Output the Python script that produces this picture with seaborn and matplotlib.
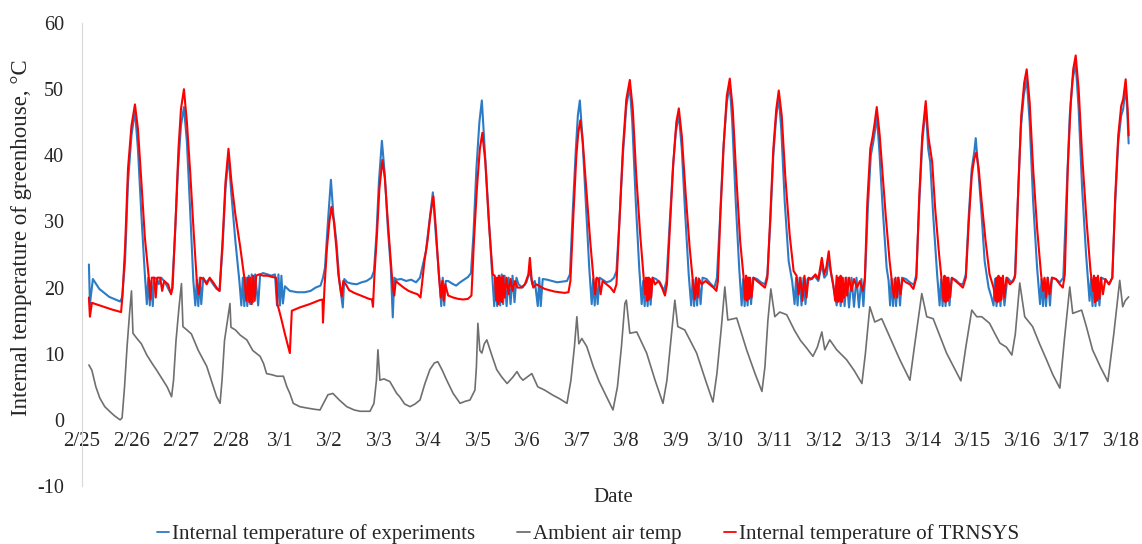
import matplotlib
matplotlib.use("Agg")
import matplotlib.pyplot as plt
from matplotlib.lines import Line2D
import seaborn as sns
import pandas as pd

# x = days after 2/25 (tick 0 = 2/25), y = temperature in degC
date_labels = ["2/25", "2/26", "2/27", "2/28", "3/1", "3/2", "3/3", "3/4", "3/5", "3/6", "3/7",
               "3/8", "3/9", "3/10", "3/11", "3/12", "3/13", "3/14", "3/15", "3/16", "3/17", "3/18"]
y_ticks = [-10, 0, 10, 20, 30, 40, 50, 60]

exp_points = [
    (0.14, 23.5), (0.16, 17.5), (0.22, 21.3), (0.35, 19.8), (0.55, 18.6), (0.77, 17.9), (0.81, 18.5),
    (0.87, 24), (0.93, 36), (1.00, 43), (1.07, 46.7), (1.13, 41), (1.20, 31), (1.27, 22), (1.31, 17.5),
    (1.34, 21.5), (1.37, 17.3), (1.40, 21), (1.43, 17.2), (1.46, 21.5), (1.52, 21.3), (1.55, 20.5),
    (1.60, 21.5), (1.66, 21), (1.72, 20.2), (1.78, 19.3), (1.82, 19.8),
    (1.88, 28), (1.94, 38), (2.00, 44.5), (2.06, 47.3), (2.12, 42), (2.19, 31), (2.25, 21), (2.29, 17.3),
    (2.32, 21.2), (2.35, 17.2), (2.38, 21.5), (2.41, 17.5), (2.45, 21.5), (2.50, 20.8), (2.58, 21.3),
    (2.65, 20.5), (2.72, 19.8), (2.78, 19.5),
    (2.84, 26), (2.90, 35), (2.96, 40), (3.02, 34), (3.10, 27), (3.18, 21), (3.22, 17.3),
    (3.25, 21.5), (3.28, 17.2), (3.31, 21.5), (3.34, 17.2), (3.37, 21.8), (3.40, 17.5), (3.43, 22),
    (3.46, 17.8), (3.50, 22), (3.56, 17.3), (3.60, 22), (3.66, 22.2), (3.75, 22), (3.82, 21.8),
    (3.90, 22), (3.94, 17.3), (3.97, 22), (4.00, 17.3), (4.03, 21.8), (4.06, 17.6),
    (4.10, 20.2), (4.20, 19.5), (4.35, 19.3), (4.50, 19.3), (4.62, 19.5), (4.72, 20), (4.82, 20.3), (4.87, 21.5),
    (4.91, 23), (4.97, 30), (5.03, 36.3), (5.08, 31), (5.14, 27), (5.20, 21), (5.27, 17), (5.30, 21.3),
    (5.36, 20.8), (5.45, 20.6), (5.55, 20.5), (5.65, 20.8), (5.75, 21), (5.85, 21.5), (5.90, 22.5),
    (5.95, 28), (6.00, 36), (6.06, 42.2), (6.12, 37), (6.18, 29), (6.24, 23), (6.28, 15.5), (6.31, 21.5),
    (6.36, 21.2), (6.45, 21.3), (6.55, 21), (6.65, 21.2), (6.75, 20.8), (6.83, 21.5), (6.89, 23.5),
    (6.95, 25.5), (7.02, 30), (7.09, 34.4), (7.15, 28), (7.22, 21.5), (7.26, 17.2), (7.29, 21.5),
    (7.32, 17.3), (7.35, 21),
    (7.40, 21), (7.48, 20.6), (7.56, 20.3), (7.64, 20.8), (7.72, 21.2), (7.80, 21.6), (7.86, 22.2),
    (7.91, 28), (7.97, 38), (8.03, 45), (8.08, 48.3), (8.13, 42), (8.20, 33), (8.28, 23), (8.33, 17.2),
    (8.36, 21.5), (8.39, 17.2), (8.42, 21.8), (8.45, 17.3), (8.48, 22), (8.51, 17.5), (8.54, 21.8),
    (8.58, 17.2), (8.62, 21.5), (8.66, 17.5), (8.70, 21.8), (8.74, 17.8), (8.78, 21.5), (8.82, 20.5),
    (8.90, 20), (8.98, 20.8), (9.05, 22.5), (9.10, 20.5), (9.15, 21), (9.21, 17.2), (9.24, 21.5),
    (9.27, 17.2), (9.31, 21.3), (9.40, 21.2), (9.50, 21), (9.60, 20.8), (9.70, 20.9), (9.80, 21), (9.86, 22),
    (9.92, 32), (9.98, 41), (10.02, 46), (10.06, 48.3), (10.11, 43), (10.18, 33), (10.25, 23), (10.30, 17.5),
    (10.33, 21.3), (10.36, 17.3), (10.39, 21.3), (10.42, 17.5), (10.46, 21.5), (10.52, 21.2),
    (10.60, 20.8), (10.68, 21), (10.75, 21.5), (10.80, 22.5),
    (10.86, 30), (10.93, 40), (11.00, 47.5), (11.07, 50.4), (11.12, 45), (11.19, 33), (11.26, 23), (11.31, 17.5),
    (11.34, 21), (11.37, 17.2), (11.40, 21.3), (11.43, 17.2), (11.46, 21.5), (11.49, 17.4), (11.53, 21.5),
    (11.60, 21.3), (11.68, 20.8), (11.76, 19.5), (11.81, 21),
    (11.87, 29), (11.94, 38), (12.00, 43.5), (12.06, 46.2), (12.12, 41), (12.19, 31), (12.26, 22), (12.31, 17.3),
    (12.34, 21.2), (12.37, 17.2), (12.40, 21.3), (12.43, 17.3), (12.46, 21.4), (12.50, 17.5), (12.54, 21.5),
    (12.62, 21.3), (12.70, 20.6), (12.78, 20), (12.83, 21.5),
    (12.89, 30), (12.96, 41), (13.03, 48), (13.09, 50.6), (13.14, 45), (13.21, 33), (13.28, 23), (13.33, 17.3),
    (13.36, 21.3), (13.39, 17.2), (13.42, 21.3), (13.45, 17.3), (13.48, 21.5), (13.52, 17.5), (13.56, 21.5),
    (13.64, 21.3), (13.72, 20.8), (13.80, 20.5), (13.85, 22),
    (13.91, 30), (13.97, 40), (14.03, 46), (14.08, 48.8), (14.13, 44), (14.20, 33), (14.28, 24), (14.35, 21), (14.40, 17.5),
    (14.43, 21.5), (14.46, 17.3), (14.50, 21.5), (14.54, 17.3), (14.58, 21.5), (14.62, 17.5), (14.66, 21.3),
    (14.72, 21.2), (14.80, 21.8), (14.88, 21), (14.95, 23.5), (15.00, 21.5), (15.05, 22), (15.09, 24.5),
    (15.14, 22), (15.20, 19.5), (15.25, 17.3), (15.29, 21.5), (15.33, 17.2), (15.37, 21.5), (15.41, 17.2),
    (15.45, 21.5), (15.50, 17), (15.55, 21.5), (15.60, 17.1), (15.65, 21.5), (15.70, 17), (15.75, 21.3),
    (15.79, 17.2), (15.82, 21),
    (15.88, 32), (15.94, 40), (15.99, 42), (16.03, 44), (16.06, 46.1), (16.11, 41), (16.18, 32), (16.26, 23),
    (16.30, 21), (16.33, 17.3),
    (16.36, 21.3), (16.39, 17.2), (16.42, 21.3), (16.45, 17.2), (16.49, 21.5), (16.53, 17.3), (16.57, 21.5),
    (16.65, 21.3), (16.73, 20.8), (16.81, 20.4), (16.86, 22),
    (16.92, 33), (16.98, 42), (17.05, 47.5), (17.10, 41), (17.14, 39), (17.20, 31), (17.28, 22), (17.33, 17.3),
    (17.36, 21.3), (17.39, 17.2), (17.42, 21.3), (17.45, 17.2), (17.49, 21.5), (17.53, 17.3), (17.57, 21.4),
    (17.65, 21.2), (17.73, 20.6), (17.80, 20.5), (17.86, 22),
    (17.92, 31), (17.98, 38), (18.03, 40.5), (18.06, 42.6), (18.10, 39), (18.17, 32), (18.24, 24), (18.32, 20),
    (18.38, 18.5), (18.42, 17.3),
    (18.45, 21.3), (18.48, 17.2), (18.52, 21.5), (18.56, 17.2), (18.60, 21.5), (18.64, 17.3), (18.70, 21.5),
    (18.78, 20.8), (18.85, 21.5),
    (18.91, 33), (18.97, 44), (19.03, 49), (19.09, 51.6), (19.15, 45), (19.22, 33), (19.30, 23), (19.36, 17.5),
    (19.39, 21.3), (19.42, 17.2), (19.45, 21.3), (19.48, 17.2), (19.52, 21.5), (19.56, 17.3), (19.60, 21.5),
    (19.68, 21.3), (19.76, 20.8), (19.83, 21.5),
    (19.90, 35), (19.96, 46), (20.02, 51.5), (20.08, 53.9), (20.14, 47), (20.21, 35), (20.29, 25), (20.36, 18),
    (20.39, 21.5), (20.42, 17.2), (20.45, 21.5), (20.48, 17.2), (20.52, 21.5), (20.56, 17.3), (20.60, 21.5),
    (20.68, 21.2), (20.76, 20.5), (20.82, 21.5),
    (20.88, 33), (20.94, 42), (21.00, 46), (21.04, 47), (21.09, 50.4), (21.12, 47), (21.15, 41.8),
]

ambient_points = [
    (0.14, 8.3), (0.20, 7.5), (0.28, 5.0), (0.36, 3.3), (0.46, 2.0), (0.57, 1.2), (0.66, 0.6), (0.77, 0.0),
    (0.81, 0.3), (0.86, 5), (0.91, 11), (0.96, 16), (1.00, 19.5), (1.03, 13.1), (1.10, 12.4), (1.20, 11.5),
    (1.31, 9.8), (1.42, 8.5), (1.51, 7.5), (1.62, 6.2), (1.72, 5.0), (1.81, 3.5), (1.85, 6), (1.90, 12),
    (1.96, 17), (2.01, 20.6), (2.04, 14.1), (2.12, 13.6), (2.21, 13.0), (2.35, 10.5), (2.52, 8.1), (2.62, 5.8),
    (2.72, 3.5), (2.79, 2.5), (2.83, 6), (2.88, 12), (2.94, 15), (2.99, 17.6), (3.01, 14), (3.10, 13.6),
    (3.20, 12.8), (3.33, 12.1), (3.45, 10.5), (3.60, 9.6), (3.67, 8.5), (3.73, 7.0), (3.85, 6.8), (3.94, 6.6),
    (4.07, 6.6), (4.14, 5.0), (4.20, 4.0), (4.27, 2.5), (4.40, 2.0), (4.54, 1.8), (4.70, 1.6), (4.81, 1.5),
    (4.90, 2.8), (4.97, 3.8), (5.07, 4.0), (5.20, 3.0), (5.35, 2.0), (5.50, 1.5), (5.62, 1.3), (5.82, 1.3),
    (5.90, 2.5), (5.95, 6), (5.98, 10.6), (6.02, 6.0), (6.10, 6.2), (6.22, 5.8), (6.36, 4.0), (6.42, 3.5),
    (6.52, 2.4), (6.63, 2.0), (6.73, 2.4), (6.83, 3.0), (6.93, 5.5), (7.03, 7.6), (7.12, 8.6), (7.19, 8.8),
    (7.28, 7.5), (7.37, 6.0), (7.50, 4.0), (7.64, 2.5), (7.74, 2.8), (7.84, 3.0), (7.94, 4.5), (7.97, 8),
    (8.00, 14.6), (8.04, 10.5), (8.08, 10.1), (8.13, 11.5), (8.18, 12.1), (8.28, 9.8), (8.38, 7.6), (8.48, 6.5),
    (8.59, 5.5), (8.70, 6.4), (8.79, 7.3), (8.85, 6.5), (8.91, 6.0), (9.00, 6.5), (9.09, 7.0), (9.21, 5.0),
    (9.35, 4.5), (9.50, 3.8), (9.65, 3.2), (9.80, 2.5), (9.88, 6), (9.95, 11), (10.00, 15.6), (10.04, 11.5),
    (10.10, 12.3), (10.20, 11.1), (10.33, 8.1), (10.45, 5.8), (10.60, 3.5), (10.73, 1.5), (10.82, 5),
    (10.90, 11), (10.97, 17.6), (11.00, 18.1), (11.07, 13.1), (11.21, 13.3), (11.41, 10.1), (11.58, 6),
    (11.74, 2.5), (11.82, 6), (11.90, 12), (11.98, 18.1), (12.04, 14.1), (12.18, 13.6), (12.42, 10.1),
    (12.60, 6), (12.75, 2.7), (12.83, 7), (12.92, 14), (12.99, 20.1), (13.05, 15.1), (13.23, 15.4),
    (13.43, 10.6), (13.60, 7), (13.74, 4.3), (13.80, 8), (13.86, 15), (13.92, 19.8), (14.00, 15.6),
    (14.10, 16.3), (14.24, 15.9), (14.40, 13.5), (14.52, 12), (14.65, 10.8), (14.77, 9.6), (14.86, 11),
    (14.95, 13.3), (15.01, 10.6), (15.11, 12.1), (15.25, 10.6), (15.45, 9.1), (15.60, 7.5), (15.76, 5.5),
    (15.83, 10), (15.92, 17.1), (16.02, 14.8), (16.16, 15.3), (16.32, 12.6), (16.52, 9.2), (16.73, 6.0),
    (16.82, 11), (16.97, 19.1), (17.07, 15.6), (17.20, 15.3), (17.47, 10.1), (17.65, 7.5), (17.76, 5.9),
    (17.86, 11), (17.98, 16.6), (18.08, 15.6), (18.18, 15.6), (18.34, 14.6), (18.45, 13), (18.55, 11.6),
    (18.68, 11), (18.79, 9.8), (18.86, 13), (18.95, 20.7), (19.05, 15.6), (19.21, 14.1), (19.35, 11.5),
    (19.49, 9.1), (19.62, 6.8), (19.76, 4.8), (19.85, 12), (19.96, 20.1), (20.02, 16.1), (20.20, 16.6),
    (20.30, 14), (20.42, 10.6), (20.58, 8), (20.73, 5.8), (20.85, 13), (20.97, 21.1), (21.03, 17.1),
    (21.08, 18), (21.15, 18.6),
]

trnsys_points = [
    (0.14, 18.5), (0.16, 15.6), (0.20, 17.7), (0.40, 17.2), (0.60, 16.7), (0.79, 16.3), (0.82, 19),
    (0.87, 26), (0.93, 38), (1.00, 44.5), (1.07, 47.7), (1.13, 44), (1.20, 36), (1.27, 27.6), (1.35, 21.5),
    (1.38, 18.2), (1.41, 21.5),
    (1.46, 21.5), (1.49, 18.5), (1.52, 21.5), (1.58, 21.5), (1.62, 19.5), (1.66, 21), (1.74, 20.5), (1.80, 19), (1.83, 20),
    (1.89, 30), (1.95, 41), (2.00, 47), (2.06, 50), (2.12, 45), (2.19, 37), (2.26, 28), (2.32, 21), (2.36, 19), (2.40, 21.5),
    (2.46, 21.3), (2.52, 20.5), (2.58, 21.5), (2.65, 20.8), (2.72, 20), (2.78, 19.5),
    (2.84, 27), (2.90, 36), (2.96, 41), (3.02, 36), (3.10, 31), (3.20, 26), (3.28, 21.5), (3.32, 18),
    (3.35, 21.5), (3.38, 17.8), (3.40, 21.5), (3.43, 17.5), (3.46, 21.8), (3.49, 18), (3.52, 21.8),
    (3.58, 22), (3.66, 21.8), (3.75, 21.8), (3.85, 21.6), (3.92, 21.5), (3.95, 17.5), (4.02, 15.5),
    (4.10, 13), (4.20, 10.1), (4.24, 16.5), (4.40, 17), (4.60, 17.5), (4.80, 18.1), (4.86, 18.2),
    (4.87, 14.7), (4.90, 20),
    (4.95, 26), (5.00, 30), (5.04, 32.2), (5.09, 30), (5.14, 26), (5.18, 22), (5.22, 20), (5.25, 18.7), (5.28, 21),
    (5.33, 20.5), (5.40, 19.6), (5.50, 19.2), (5.60, 18.9), (5.70, 18.6), (5.80, 18.3), (5.86, 18.2),
    (5.88, 17.1), (5.91, 22),
    (5.96, 28), (6.01, 35), (6.07, 39.3), (6.12, 36.5), (6.18, 30), (6.24, 24), (6.28, 20), (6.31, 18.8), (6.34, 21),
    (6.40, 20.6), (6.50, 20), (6.60, 19.5), (6.70, 19.2), (6.78, 19), (6.84, 18.5), (6.87, 20.5),
    (6.92, 24), (6.98, 27), (7.04, 31), (7.10, 33.8), (7.15, 29), (7.21, 22), (7.25, 18.5), (7.28, 21),
    (7.31, 18), (7.34, 20.5),
    (7.40, 18.8), (7.50, 18.5), (7.60, 18.3), (7.70, 18.2), (7.80, 18.3), (7.87, 18.8),
    (7.92, 27), (7.98, 35), (8.04, 41), (8.09, 43.4), (8.15, 39), (8.22, 30), (8.30, 22), (8.34, 21.8),
    (8.37, 18), (8.39, 21.5), (8.41, 17.5), (8.43, 21.8), (8.45, 18), (8.47, 21.5), (8.49, 17.8),
    (8.51, 21.8), (8.54, 18.5), (8.58, 21.5), (8.62, 19), (8.66, 21.3), (8.70, 19.5), (8.75, 21),
    (8.80, 20), (8.88, 20), (8.95, 20.5), (9.02, 22), (9.05, 24.5), (9.09, 21), (9.12, 20), (9.18, 20.5),
    (9.25, 20.2), (9.35, 19.8), (9.45, 19.6), (9.55, 19.4), (9.65, 19.3), (9.75, 19.2), (9.83, 19.3), (9.87, 21),
    (9.93, 31), (9.99, 40), (10.03, 43.5), (10.07, 45.3), (10.12, 42), (10.19, 35), (10.27, 27), (10.34, 21),
    (10.37, 19), (10.40, 21.5),
    (10.44, 21.3), (10.48, 19), (10.52, 21), (10.60, 20.5), (10.68, 20), (10.75, 19.3), (10.80, 20.5),
    (10.86, 30), (10.93, 41), (11.00, 48.5), (11.07, 51.4), (11.13, 47), (11.20, 37), (11.28, 28),
    (11.35, 21.5), (11.38, 19),
    (11.40, 21.5), (11.42, 18), (11.44, 21.5), (11.46, 18.2), (11.48, 21.3), (11.50, 18.5), (11.53, 21.5),
    (11.58, 20.5), (11.65, 21), (11.72, 20), (11.78, 18.8), (11.82, 20.5),
    (11.88, 29), (11.95, 39), (12.01, 45), (12.06, 47.1), (12.12, 43), (12.20, 34), (12.28, 26),
    (12.35, 20.5), (12.38, 18.2),
    (12.41, 21.5), (12.44, 18.5), (12.47, 21.3), (12.52, 20.5), (12.60, 21), (12.68, 20.5), (12.76, 20),
    (12.82, 19.5), (12.85, 21),
    (12.90, 31), (12.97, 42), (13.03, 49), (13.09, 51.6), (13.15, 47), (13.22, 37), (13.30, 27),
    (13.37, 21.5), (13.40, 18.2),
    (13.42, 21.8), (13.44, 18), (13.46, 21.5), (13.48, 18.3), (13.50, 21.5), (13.53, 18.5), (13.57, 21.5),
    (13.64, 21), (13.72, 20.5), (13.80, 20), (13.85, 21.5),
    (13.91, 31), (13.97, 41), (14.03, 47), (14.08, 49.8), (14.14, 46), (14.21, 37), (14.30, 28),
    (14.38, 22.5), (14.44, 21.8),
    (14.48, 19), (14.52, 21.5), (14.56, 18), (14.60, 21.8), (14.64, 18.5), (14.68, 21.5), (14.75, 21.3),
    (14.82, 22), (14.88, 21.3), (14.95, 24.5), (15.00, 22), (15.04, 23), (15.09, 25.5), (15.13, 22.5),
    (15.18, 20.5), (15.22, 18),
    (15.25, 21.8), (15.27, 17.8), (15.29, 21.5), (15.31, 18), (15.33, 21.8), (15.35, 17.8), (15.37, 21.5),
    (15.40, 18.5), (15.43, 21.5), (15.46, 18.8), (15.50, 21.5), (15.55, 19.5), (15.60, 21.3), (15.66, 20),
    (15.72, 21), (15.78, 19.5), (15.82, 21.5),
    (15.87, 33), (15.93, 41), (15.98, 43), (16.02, 45), (16.06, 47.3), (16.12, 43), (16.17, 38), (16.24, 31),
    (16.32, 24), (16.38, 20), (16.41, 18.5),
    (16.44, 21.5), (16.47, 18.5), (16.50, 21.5), (16.54, 19), (16.58, 21.3), (16.65, 20.8), (16.73, 20.5),
    (16.80, 19.8), (16.86, 21.5),
    (16.92, 34), (16.98, 43), (17.05, 48.2), (17.10, 43), (17.14, 41), (17.18, 39), (17.24, 32), (17.32, 25),
    (17.38, 20.5), (17.41, 18),
    (17.43, 21.8), (17.45, 17.8), (17.47, 21.5), (17.49, 18), (17.51, 21.5), (17.54, 18.5), (17.58, 21.5),
    (17.65, 21), (17.73, 20.5), (17.80, 20), (17.86, 21.5),
    (17.92, 30), (17.98, 37), (18.03, 39.5), (18.07, 40.4), (18.12, 38), (18.18, 33), (18.26, 27), (18.34, 22),
    (18.42, 20), (18.46, 18),
    (18.48, 21.5), (18.50, 17.8), (18.52, 21.8), (18.54, 18), (18.56, 21.5), (18.58, 18.2), (18.61, 21.8),
    (18.64, 18.5), (18.68, 21.5), (18.75, 20.5), (18.82, 21), (18.86, 22),
    (18.92, 35), (18.98, 46), (19.04, 51), (19.09, 53), (19.15, 48), (19.22, 38), (19.30, 29), (19.38, 22),
    (19.42, 19.5),
    (19.45, 21.5), (19.48, 18.5), (19.51, 21.5), (19.55, 19), (19.60, 21.5), (19.68, 21.3), (19.76, 20.5),
    (19.82, 20), (19.86, 22),
    (19.92, 38), (19.98, 48), (20.03, 53), (20.08, 55.1), (20.14, 50), (20.21, 40), (20.30, 30), (20.38, 22.5),
    (20.43, 19.5),
    (20.45, 21.8), (20.47, 17.8), (20.49, 21.5), (20.51, 18), (20.53, 21.8), (20.56, 18.3), (20.59, 21.5),
    (20.63, 19), (20.68, 21.3), (20.75, 20.5), (20.82, 21.5),
    (20.88, 34), (20.94, 43), (21.00, 47.5), (21.04, 48.5), (21.09, 51.5), (21.13, 47), (21.15, 43),
]

series_names = ["Internal temperature of experiments", "Ambient air temp", "Internal temperature of TRNSYS"]
colors = {"Internal temperature of experiments": "#2b7bc6",
          "Ambient air temp": "#6f6f6f",
          "Internal temperature of TRNSYS": "#ff0000"}

frames = []
for name, pts in zip(series_names, [exp_points, ambient_points, trnsys_points]):
    d = pd.DataFrame(pts, columns=["day", "temp"])
    d["series"] = name
    frames.append(d)
df = pd.concat(frames, ignore_index=True)

sns.set_theme(style="white")
plt.rcParams["font.family"] = ["Liberation Serif", "DejaVu Serif"]
plt.rcParams["font.size"] = 14.5

fig = plt.figure(figsize=(11.42, 5.44), dpi=100)
ax = fig.add_axes([0.0718, 0.1066, 0.923, 0.851])

# draw order: ambient at the back, TRNSYS on top
for name, lw in [("Ambient air temp", 1.2),
                 ("Internal temperature of experiments", 1.5),
                 ("Internal temperature of TRNSYS", 1.5)]:
    sub = df[df["series"] == name]
    sns.lineplot(data=sub, x="day", y="temp", color=colors[name], linewidth=lw,
                 sort=False, estimator=None, ax=ax, legend=False)

ax.set_xlim(0, 21.3)
ax.set_ylim(-10, 60)
ax.set_yticks(y_ticks)
ax.set_yticklabels([str(v) for v in y_ticks])
ax.set_xticks(range(len(date_labels)))
ax.set_xticklabels(date_labels)
ax.set_xlabel("")
ax.set_ylabel("")

for s in ["top", "right", "bottom"]:
    ax.spines[s].set_visible(False)
ax.spines["left"].set_color("#d9d9d9")
ax.spines["left"].set_linewidth(0.8)
ax.spines["bottom"].set_position(("data", 0))

ax.tick_params(axis="y", length=0, pad=13, labelsize=14.5, colors="#262626")
ax.tick_params(axis="x", length=0, pad=9, labelsize=15, colors="#262626")

fig.text(22 / 1142, 1 - 238 / 544, "Internal temperature of greenhouse, \u00b0C", rotation=90,
         ha="center", va="center", fontsize=16.5, color="#262626")
fig.text(0.537, 1 - 497 / 544, "Date", ha="center", va="center", fontsize=15, color="#262626")

handles = [Line2D([0], [0], color=colors[n], linewidth=1.3) for n in series_names]
fig.legend(handles, series_names, loc="center", bbox_to_anchor=(0.515, 0.018), ncol=3,
           frameon=False, handlelength=0.6, handletextpad=0.15, columnspacing=2.0,
           fontsize=15.1, labelcolor="#262626")

fig.savefig("out.png", dpi=100)
